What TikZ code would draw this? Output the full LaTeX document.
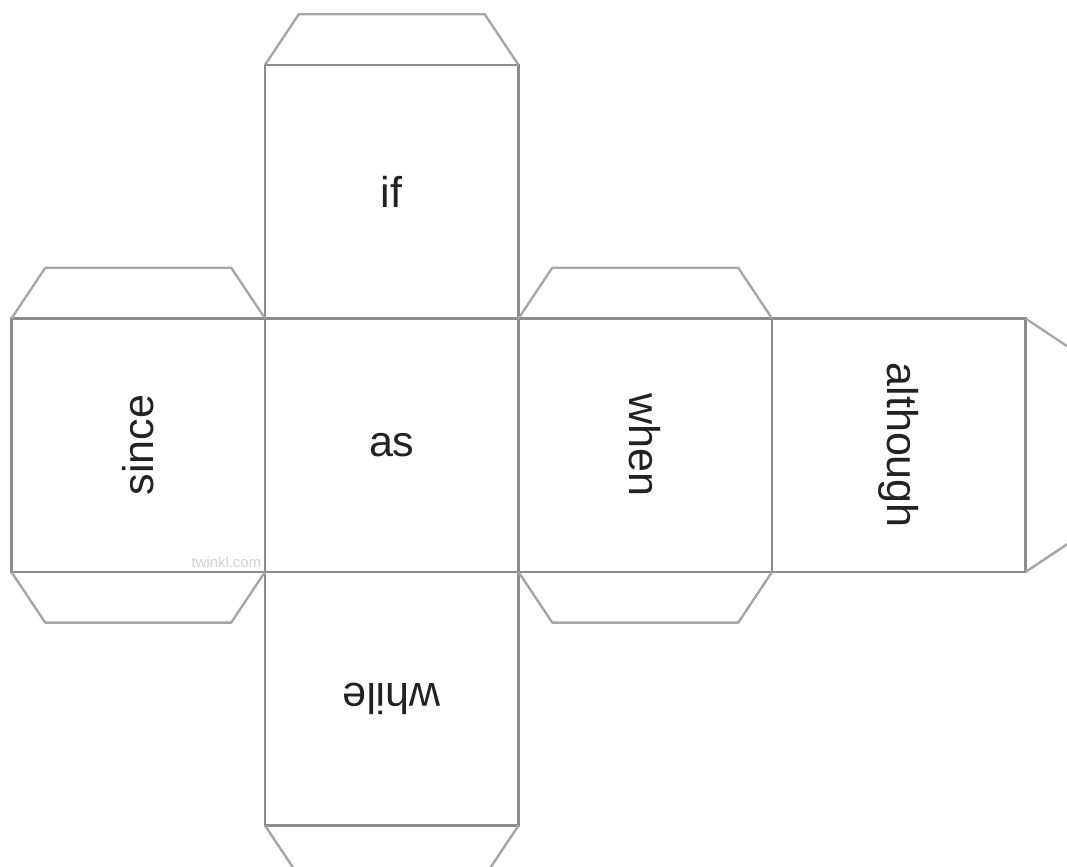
\documentclass[tikz,border=0pt]{standalone}
\usepackage{fontspec}
\setmainfont{Liberation Sans}
\usepackage{xcolor}
\usepackage{tikz}

\definecolor{netline}{HTML}{8C8C8C}
\definecolor{tabline}{HTML}{A6A6A6}
\definecolor{wordink}{HTML}{222222}

\tikzset{
  face/.style={draw=netline, line width=0.8pt, minimum size=3cm, inner sep=0pt,
               font=\fontsize{14.5}{17}\selectfont, text=wordink},
  flap/.style={draw=tabline, line width=0.8pt, line join=round},
}

\begin{document}
\begin{tikzpicture}
                \useasboundingbox (-3.136,-3.491) rectangle (9.491,6.769);
                \clip (-3.136,-3.491) rectangle (9.491,6.769);

                %% faces
                \node[face] (as) at (1.5,1.5) {as};
                \node[face] (if) at (1.5,4.5) {if};
                \node[face, rotate=90] (since) at (-1.5,1.5) {since};
                \node[face, rotate=-90] (when) at (4.5,1.5) {when};
                \node[face, rotate=-90] (although) at (7.5,1.5) {although};
                \node[face, rotate=180] (while) at (1.5,-1.5) {while};

                %tabs top
                \draw[flap] (0,6) -- (0.4,6.6) -- (2.6,6.6) -- (3,6);
                \draw[flap] (-3,3) -- (-2.6,3.6) -- (-0.4,3.6) -- (0,3);
                \draw[flap] (3,3) -- (3.4,3.6) -- (5.6,3.6) -- (6,3);

                %tabs bottom
                \draw[flap] (-3,0) -- (-2.6,-0.6) -- (-0.4,-0.6) -- (0,0);
                \draw[flap] (3,0) -- (3.4,-0.6) -- (5.6,-0.6) -- (6,0);
                \draw[flap] (0,-3) -- (0.4,-3.6) -- (2.6,-3.6) -- (3,-3);

                %tab right
                \draw[flap] (9,3) -- (9.6,2.6) -- (9.6,0.4) -- (9,0);

                %% mark
                \node[anchor=south east, inner sep=0pt, text=black!18,
                      font=\fontsize{5}{6}\selectfont] (mark) at (-0.04,0.05) {twinkl.com};

            \end{tikzpicture}
\end{document}
